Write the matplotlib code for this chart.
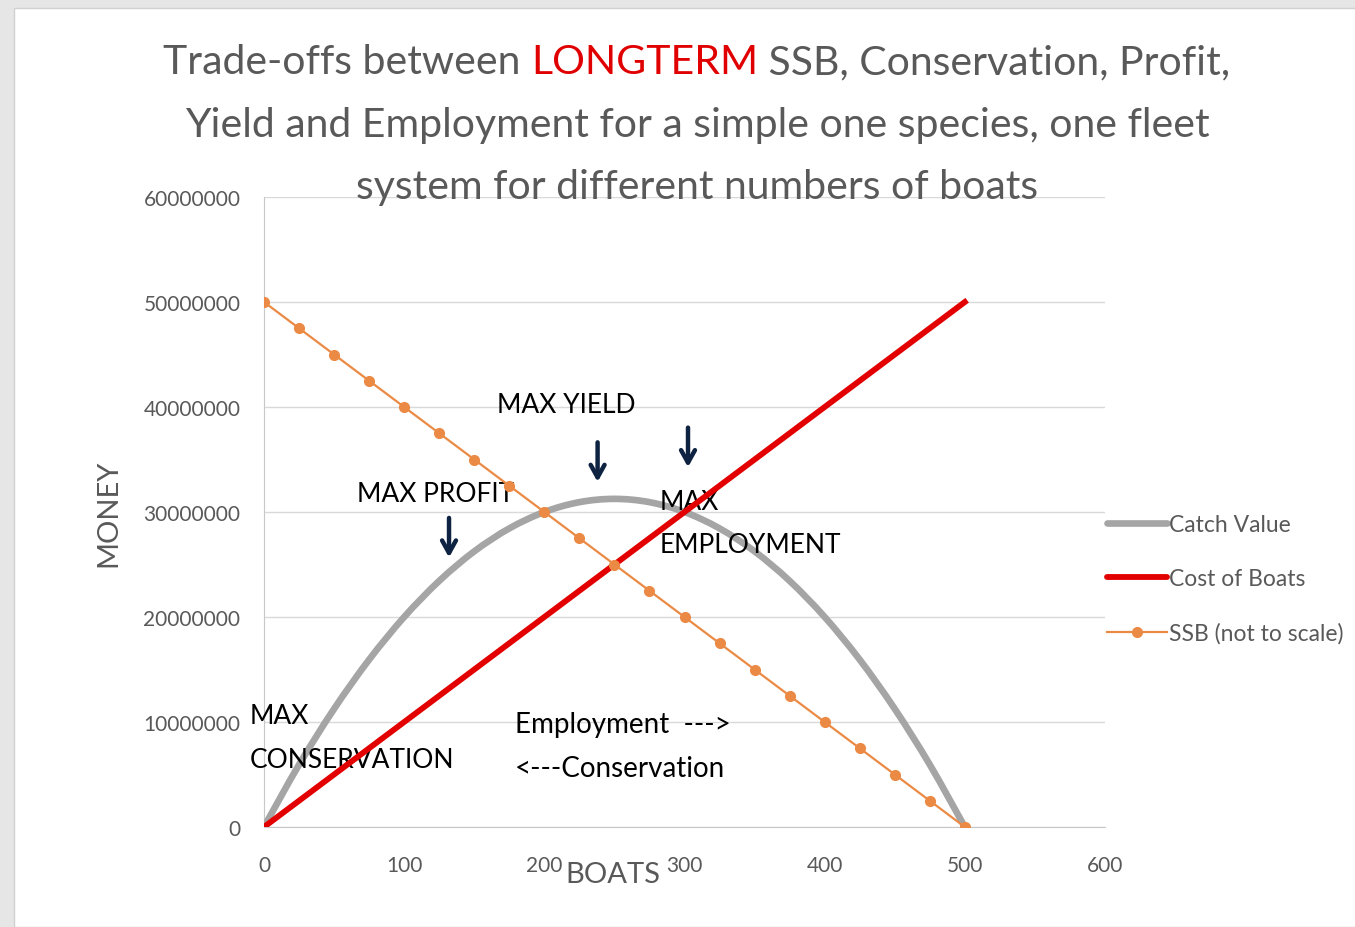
import matplotlib
matplotlib.use("Agg")
import numpy as np
import matplotlib.pyplot as plt
from matplotlib.patches import Rectangle, PathPatch
from matplotlib.path import Path
from matplotlib.lines import Line2D

# ── data ─────────────────────────────────────────────────────────────────────
boats = [0, 25, 50, 75, 100, 125, 150, 175, 200, 225, 250,
         275, 300, 325, 350, 375, 400, 425, 450, 475, 500]
catch_value = [0, 5937500, 11250000, 15937500, 20000000, 23437500, 26250000,
               28437500, 30000000, 30937500, 31250000, 30937500, 30000000,
               28437500, 26250000, 23437500, 20000000, 15937500, 11250000,
               5937500, 0]
cost_boats_x = [0, 500]
cost_boats = [0, 50000000]
ssb = [50000000, 47500000, 45000000, 42500000, 40000000, 37500000, 35000000,
       32500000, 30000000, 27500000, 25000000, 22500000, 20000000, 17500000,
       15000000, 12500000, 10000000, 7500000, 5000000, 2500000, 0]

x_ticks = [0, 100, 200, 300, 400, 500, 600]
y_ticks = [0, 10000000, 20000000, 30000000, 40000000, 50000000, 60000000]

title_parts = ["Trade-offs between ", "LONGTERM", " SSB, Conservation, Profit,"]
title_rest = ["Yield and Employment for a simple one species, one fleet",
              "system for different numbers of boats"]

GRAY_TXT = "#595959"
FONT = ["Lato", "DejaVu Sans"]
C_CATCH, C_COST, C_SSB = "#a5a5a5", "#e30000", "#eb8a44"


def smooth_path(xs, ys):
    # Excel-style smoothed line: Catmull-Rom through the points as cubic Beziers
    P = np.column_stack([xs, ys]).astype(float)
    n = len(P)
    verts, codes = [P[0]], [Path.MOVETO]
    for i in range(n - 1):
        p0 = P[i - 1] if i > 0 else P[i]
        p3 = P[i + 2] if i + 2 < n else P[i + 1]
        p1, p2 = P[i], P[i + 1]
        verts += [p1 + (p2 - p0) / 6, p2 - (p3 - p1) / 6, p2]
        codes += [Path.CURVE4] * 3
    return Path(verts, codes)


fig = plt.figure(figsize=(13.55, 9.28), dpi=100, facecolor="#e6e6e6")
fig.patches.append(Rectangle((14 / 1355, 0), 1.0, 1 - 9 / 928, transform=fig.transFigure,
                             facecolor="white", edgecolor="#d0d0d0", lw=1, zorder=-10))

ax = fig.add_axes([264 / 1355, 1 - 828 / 928, 841 / 1355, 630 / 928])
ax.set_facecolor("none")

ax.add_patch(PathPatch(smooth_path(boats, catch_value), fill=False, edgecolor=C_CATCH,
                       lw=4.8, capstyle="round", zorder=3))
ax.plot(cost_boats_x, cost_boats, color=C_COST, lw=4.2, zorder=4)
ax.plot(boats, ssb, color=C_SSB, lw=1.6, marker="o", ms=7, zorder=5)

ax.set_xlim(0, 600)
ax.set_ylim(0, 60000000)
ax.set_xticks(x_ticks)
ax.set_yticks(y_ticks)
ax.set_xticklabels([str(v) for v in x_ticks])
ax.set_yticklabels([str(v) for v in y_ticks])
ax.tick_params(length=0, colors=GRAY_TXT, labelsize=15)
ax.tick_params(axis="y", pad=17)
ax.tick_params(axis="x", pad=20)
for lab in ax.get_xticklabels() + ax.get_yticklabels():
    lab.set_family(FONT)
ax.grid(axis="y", color="#d9d9d9", lw=1)
ax.set_axisbelow(True)
for s in ["top", "right"]:
    ax.spines[s].set_visible(False)
for s in ["left", "bottom"]:
    ax.spines[s].set_color("#c8c8c8")

ax.text(-0.1855, 0.5, "MONEY", transform=ax.transAxes, rotation=90, ha="center",
        va="center", fontsize=21, color=GRAY_TXT, family=FONT)
ax.text(0.415, -0.075, "BOATS", transform=ax.transAxes, ha="center", va="center",
        fontsize=21, color=GRAY_TXT, family=FONT)

# annotations
ann = dict(fontsize=19, color="black", family=FONT, va="center", ha="left")
ax.text(166, 40200000, "MAX YIELD", **ann)
ax.text(66, 31800000, "MAX PROFIT", **ann)
ax.text(282, 31000000, "MAX", **ann)
ax.text(282, 26900000, "EMPLOYMENT", **ann)
ax.text(-10, 10600000, "MAX", **ann)
ax.text(-10, 6400000, "CONSERVATION", **ann)
ax.text(179, 9800000, "Employment  --->", **{**ann, "fontsize": 20})
ax.text(179, 5600000, "<---Conservation", **{**ann, "fontsize": 20})

arrow = dict(arrowstyle="->, head_length=0.9, head_width=0.5", color="#0e2341", lw=3.2)
ax.annotate("", xy=(132, 25400000), xytext=(132, 29700000), arrowprops=arrow)
ax.annotate("", xy=(238, 32600000), xytext=(238, 36900000), arrowprops=arrow)
ax.annotate("", xy=(302.5, 34000000), xytext=(302.5, 38300000), arrowprops=arrow)

handles = [Line2D([], [], color=C_CATCH, lw=4.8, solid_capstyle="round"),
           Line2D([], [], color=C_COST, lw=4.2, solid_capstyle="round"),
           Line2D([], [], color=C_SSB, lw=1.6, marker="o", ms=7)]
labels = ["Catch Value", "Cost of Boats", "SSB (not to scale)"]
leg = fig.legend(handles, labels, loc="center left",
                 bbox_to_anchor=(1107 / 1355, 1 - 580 / 928),
                 frameon=False, handlelength=2.6, labelspacing=1.45,
                 handletextpad=0.1, borderaxespad=0, borderpad=0,
                 prop={"family": FONT, "size": 16.5})
for t in leg.get_texts():
    t.set_color(GRAY_TXT)

# title: first line has a red word
fig.canvas.draw()
r = fig.canvas.get_renderer()
TSIZE = 29.5
tkw = dict(fontsize=TSIZE, family=FONT, va="center", ha="left")
cols = [GRAY_TXT, "#e00000", GRAY_TXT]
objs = [fig.text(0, 1 - 63 / 928, s, color=c, **tkw) for s, c in zip(title_parts, cols)]
widths = [o.get_window_extent(r).width for o in objs]
x0 = 697 - sum(widths) / 2
for o, w in zip(objs, widths):
    o.set_x(x0 / 1355)
    x0 += w
for s, yp in zip(title_rest, [126, 188]):
    fig.text(697 / 1355, 1 - yp / 928, s, color=GRAY_TXT, fontsize=TSIZE,
             family=FONT, ha="center", va="center")

fig.savefig("out.png", dpi=100, facecolor=fig.get_facecolor())
